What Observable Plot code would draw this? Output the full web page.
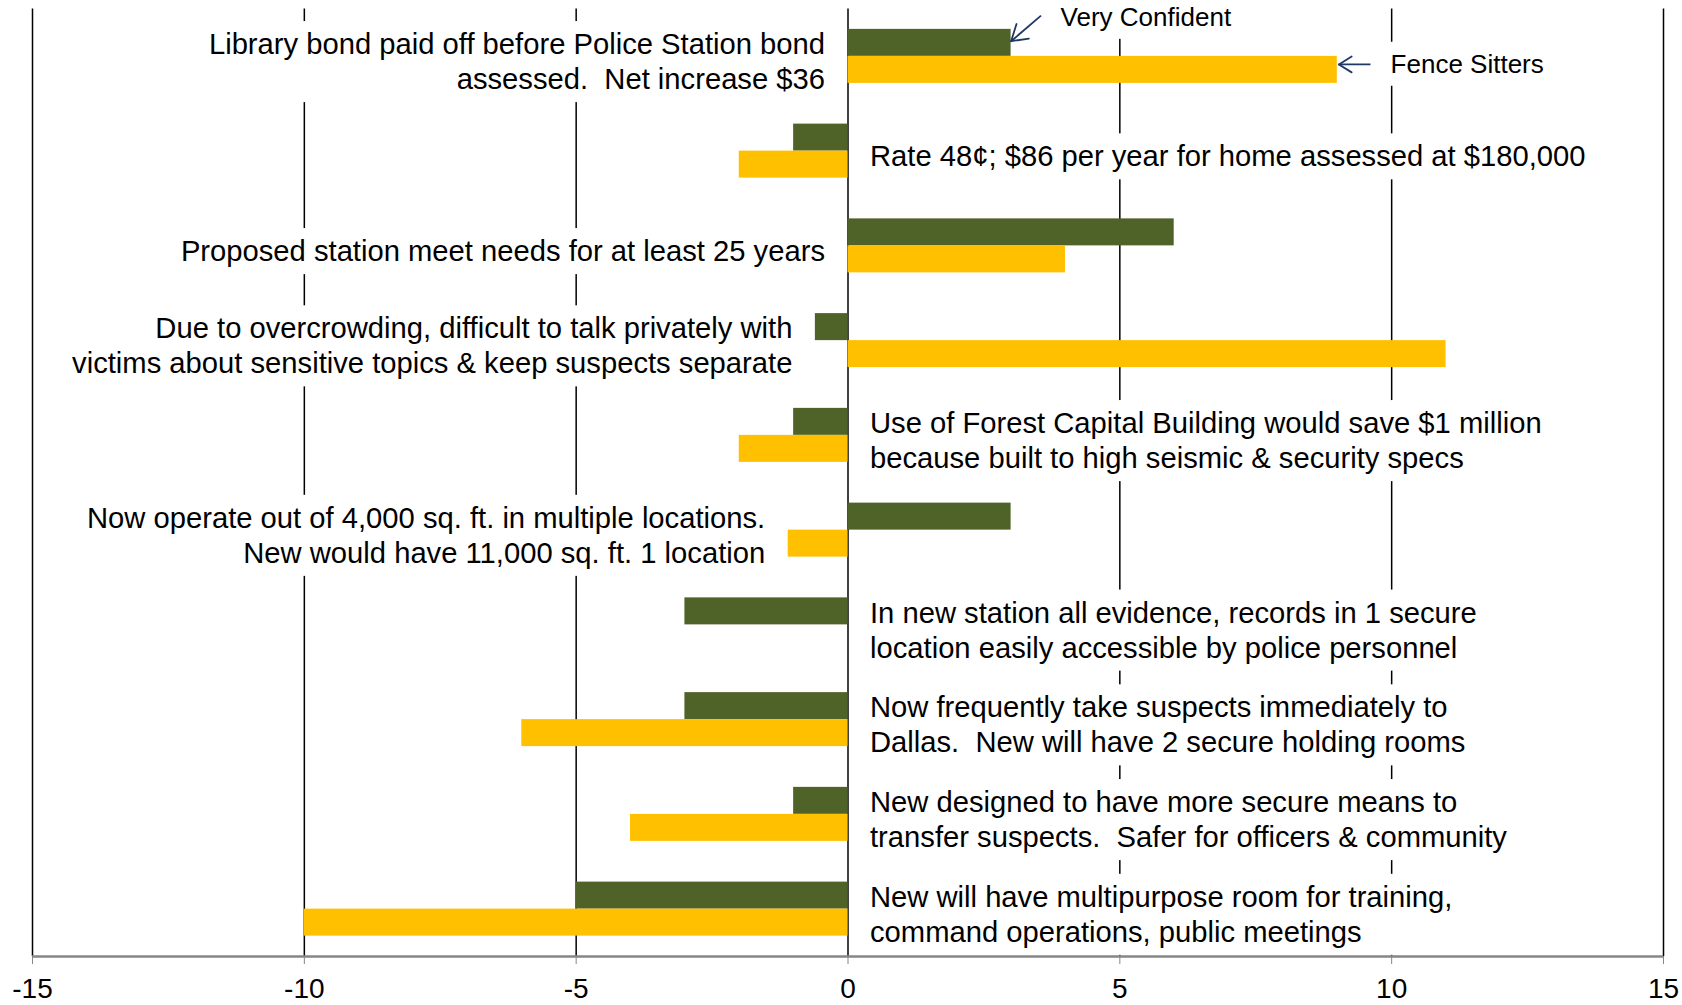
<!DOCTYPE html>
<html>
<head>
<meta charset="utf-8">
<script src="https://cdn.jsdelivr.net/npm/d3@7"></script>
<script src="https://cdn.jsdelivr.net/npm/@observablehq/plot@0.6"></script>
<style>
  html, body { margin: 0; padding: 0; background: #fff; }
  svg text { white-space: pre; }
</style>
</head>
<body>
<div id="chart"></div>
<script>
// ---- data ----
const categories = [
  "Library bond paid off before Police Station bond\nassessed.  Net increase $36",
  "Rate 48¢; $86 per year for home assessed at $180,000",
  "Proposed station meet needs for at least 25 years",
  "Due to overcrowding, difficult to talk privately with\nvictims about sensitive topics & keep suspects separate",
  "Use of Forest Capital Building would save $1 million\nbecause built to high seismic & security specs",
  "Now operate out of 4,000 sq. ft. in multiple locations.\nNew would have 11,000 sq. ft. 1 location",
  "In new station all evidence, records in 1 secure\nlocation easily accessible by police personnel",
  "Now frequently take suspects immediately to\nDallas.  New will have 2 secure holding rooms",
  "New designed to have more secure means to\ntransfer suspects.  Safer for officers & community",
  "New will have multipurpose room for training,\ncommand operations, public meetings"
];
const veryConfident = [3, -1, 6, -0.6, -1, 3, -3, -3, -1, -5];
const fenceSitters  = [9, -2, 4, 11, -2, -1.1, 0, -6, -4, -10];
const seriesNames = ["Very Confident", "Fence Sitters"];
const xTicks = [-15, -10, -5, 0, 5, 10, 15];

// ---- layout constants ----
const W = 1682, H = 1005;
const M = {top: 8.5, bottom: 49, left: 32, right: 19};
const xDomain = [-15, 15];
const yDomain = [-0.5, categories.length - 0.5];
const kx = (W - M.left - M.right) / (xDomain[1] - xDomain[0]); // px per x unit
const ky = (H - M.top - M.bottom) / (yDomain[1] - yDomain[0]); // px per category

// ---- derived tables ----
const rows = categories.map((label, i) => ({
  i, label, vc: veryConfident[i], fs: fenceSitters[i],
  left: Math.max(0, veryConfident[i], fenceSitters[i]) > 0
}));
const half = 0.285; // bar thickness in category units

// annotation arrows pointing at the first category's bars
const annotations = [
  {label: seriesNames[0], xTip: veryConfident[0], yTip: -0.16, xTail: veryConfident[0] + 0.55, yTail: -0.43, xText: veryConfident[0] + 0.91, yText: -0.41, wing: 18},
  {label: seriesNames[1], xTip: fenceSitters[0] + 0.03, yTip: 0.085, xTail: fenceSitters[0] + 0.61, yTail: 0.085, xText: fenceSitters[0] + 0.98, yText: 0.085, wing: 15}
];
// arrow-head wings (open V), built in pixel space then converted back to data units
const wings = annotations.flatMap(a => {
  const ang = Math.atan2((a.yTail - a.yTip) * ky, (a.xTail - a.xTip) * kx);
  return [-1, 1].map(s => {
    const t = ang + s * 32 * Math.PI / 180;
    return {x1: a.xTip, y1: a.yTip, x2: a.xTip + Math.cos(t) * a.wing / kx, y2: a.yTip + Math.sin(t) * a.wing / ky};
  });
});

const GREEN = "#4F6228";
const GOLD = "#FFC000";
const NAVY = "#1F3864";
const FONT = 29.2;

const chart = Plot.plot({
  width: W,
  height: H,
  marginTop: M.top,
  marginBottom: M.bottom,
  marginLeft: M.left,
  marginRight: M.right,
  style: {fontFamily: "'Liberation Sans', Arial, sans-serif", background: "#fff", color: "#000"},
  x: {domain: xDomain, axis: null},
  y: {type: "linear", domain: yDomain, reverse: true, axis: null},
  marks: [
    Plot.gridX(xTicks, {stroke: "#000", strokeOpacity: 1, strokeWidth: 1.5}),
    Plot.text(rows.filter(d => d.left), {
      x: d => Math.min(0, d.vc, d.fs), y: "i", text: "label",
      textAnchor: "end", dx: -23, dy: 4, fontSize: FONT, lineHeight: 1.2, fill: "#000"
    }),
    Plot.text(rows.filter(d => !d.left), {
      x: d => Math.max(0, d.vc, d.fs), y: "i", text: "label",
      textAnchor: "start", dx: 22, dy: 4, fontSize: FONT, lineHeight: 1.2, fill: "#000"
    }),
    Plot.text(annotations, {
      x: "xText", y: "yText", text: "label",
      textAnchor: "start", fontSize: 26, fill: "#000"
    }),
    Plot.rectX(rows, {x1: d => 0, x2: "vc", y1: d => d.i - half, y2: d => d.i, fill: GREEN}),
    Plot.rectX(rows, {x1: d => 0, x2: "fs", y1: d => d.i, y2: d => d.i + half, fill: GOLD}),
    Plot.ruleY([yDomain[1]], {stroke: "#868686", strokeWidth: 2.5}),
    Plot.axisX({ticks: xTicks, tickSize: 8, tickPadding: 14, fontSize: 28, stroke: "#868686", fill: "#000", tickFormat: d => String(d)}),
    Plot.link(annotations, {x1: "xTail", y1: "yTail", x2: "xTip", y2: "yTip", stroke: NAVY, strokeWidth: 1.8}),
    Plot.link(wings, {x1: "x1", y1: "y1", x2: "x2", y2: "y2", stroke: NAVY, strokeWidth: 1.8, strokeLinecap: "round"})
  ]
});

document.getElementById("chart").appendChild(chart);

// white text boxes behind the labels (they hide the gridlines, as the original's text boxes do)
const pad = 7;
chart.querySelectorAll('g[aria-label="text"] > text').forEach(t => {
  const b = t.getBBox();
  const r = document.createElementNS("http://www.w3.org/2000/svg", "rect");
  r.setAttribute("x", b.x - pad);
  r.setAttribute("y", b.y - pad);
  r.setAttribute("width", b.width + 2 * pad);
  r.setAttribute("height", b.height + 2 * pad);
  r.setAttribute("fill", "#fff");
  const tr = t.getAttribute("transform");
  if (tr) r.setAttribute("transform", tr);
  t.parentNode.insertBefore(r, t);
});
</script>
</body>
</html>
